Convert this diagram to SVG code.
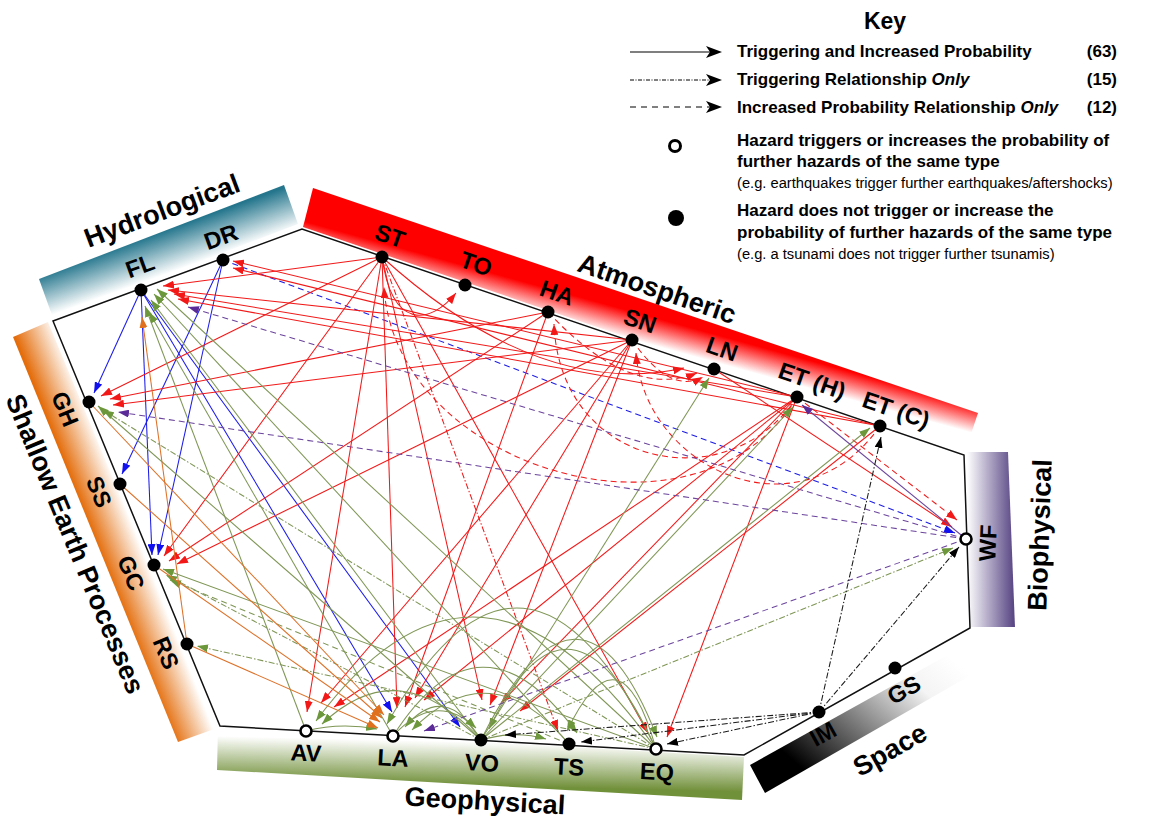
<svg xmlns="http://www.w3.org/2000/svg" width="1158" height="822" viewBox="0 0 1158 822">
<defs>
<style>
text{font-family:"Liberation Sans",Arial,sans-serif;fill:#000}
.cat{font-size:27px;font-weight:bold;text-anchor:middle;dominant-baseline:central}
.nl{font-size:23.5px;font-weight:bold;text-anchor:middle;dominant-baseline:central}
.kb{font-size:17px;font-weight:bold}
.ks{font-size:14.7px}
.c{fill:none;stroke-width:1.05}
.r{stroke:#f21818;marker-end:url(#aR)}
.g{stroke:#7f9655;marker-end:url(#aG)}
.b{stroke:#1c1ce8;marker-end:url(#aB)}
.o{stroke:#dd7128;marker-end:url(#aO)}
.p{stroke:#6b449c;marker-end:url(#aP)}
.k{stroke:#1a1a1a;marker-end:url(#aK)}
.ds{stroke-dasharray:6 4}
.dd{stroke-dasharray:6 2 1.5 2}
.fn{fill:#000}
.on{fill:#fff;stroke:#000;stroke-width:2.6}
</style>
<marker id="aR" viewBox="0 0 11 8" refX="11" refY="4" markerWidth="11" markerHeight="8" markerUnits="userSpaceOnUse" orient="auto"><path d="M0,0 L11,4 L0,8 z" fill="#f21818"/></marker>
<marker id="aG" viewBox="0 0 11 8" refX="11" refY="4" markerWidth="11" markerHeight="8" markerUnits="userSpaceOnUse" orient="auto"><path d="M0,0 L11,4 L0,8 z" fill="#6c973a"/></marker>
<marker id="aB" viewBox="0 0 11 8" refX="11" refY="4" markerWidth="11" markerHeight="8" markerUnits="userSpaceOnUse" orient="auto"><path d="M0,0 L11,4 L0,8 z" fill="#1010f0"/></marker>
<marker id="aO" viewBox="0 0 11 8" refX="11" refY="4" markerWidth="11" markerHeight="8" markerUnits="userSpaceOnUse" orient="auto"><path d="M0,0 L11,4 L0,8 z" fill="#e0701e"/></marker>
<marker id="aP" viewBox="0 0 11 8" refX="11" refY="4" markerWidth="11" markerHeight="8" markerUnits="userSpaceOnUse" orient="auto"><path d="M0,0 L11,4 L0,8 z" fill="#5b2c98"/></marker>
<marker id="aK" viewBox="0 0 11 8" refX="11" refY="4" markerWidth="11" markerHeight="8" markerUnits="userSpaceOnUse" orient="auto"><path d="M0,0 L11,4 L0,8 z" fill="#000"/></marker>
<linearGradient id="gHy" gradientUnits="userSpaceOnUse" x1="161" y1="232" x2="175" y2="271"><stop offset="0" stop-color="#25768d"/><stop offset="1" stop-color="#ffffff"/></linearGradient>
<linearGradient id="gAt" gradientUnits="userSpaceOnUse" x1="645" y1="300" x2="634" y2="340"><stop offset="0" stop-color="#ff0000"/><stop offset="0.35" stop-color="#ff0000"/><stop offset="1" stop-color="#ffffff"/></linearGradient>
<linearGradient id="gSh" gradientUnits="userSpaceOnUse" x1="95" y1="540" x2="133" y2="525"><stop offset="0" stop-color="#e46c0a"/><stop offset="1" stop-color="#ffffff"/></linearGradient>
<linearGradient id="gGe" gradientUnits="userSpaceOnUse" x1="481" y1="742" x2="480" y2="786"><stop offset="0" stop-color="#ffffff"/><stop offset="1" stop-color="#71903a"/></linearGradient>
<linearGradient id="gBi" gradientUnits="userSpaceOnUse" x1="967" y1="540" x2="1013" y2="540"><stop offset="0" stop-color="#ffffff"/><stop offset="1" stop-color="#5b4986"/></linearGradient>
<linearGradient id="gSp" gradientUnits="userSpaceOnUse" x1="930" y1="640" x2="790" y2="800"><stop offset="0" stop-color="#ffffff"/><stop offset="0.2" stop-color="#f4f4f4"/><stop offset="0.85" stop-color="#000000"/></linearGradient>
</defs>
<rect width="1158" height="822" fill="#fff"/>

<g id="bands">
<polygon points="39,279 284,185 298,224 53,318" fill="url(#gHy)"/>
<polygon points="313,188 978,413 965,452 303,227" fill="url(#gAt)"/>
<polygon points="13,337 48,322 217,728 178,742" fill="url(#gSh)"/>
<polygon points="218,727 744,757 742,800 217,770" fill="url(#gGe)"/>
<polygon points="965,452 1008,452 1015,627 970,627" fill="url(#gBi)"/>
<polygon points="750,765 980,637 992,663 765,793" fill="url(#gSp)"/>
</g>

<g id="categories">
<text class="cat" transform="translate(162,211) rotate(-20.5)">Hydrological</text>
<text class="cat" transform="translate(657,289) rotate(19)">Atmospheric</text>
<text class="cat" transform="translate(75,544) rotate(67.5)">Shallow Earth Processes</text>
<text class="cat" transform="translate(485,801) rotate(3.2)">Geophysical</text>
<text class="cat" transform="translate(1040,535) rotate(-88)">Biophysical</text>
<text class="cat" transform="translate(890,750) rotate(-29.3)">Space</text>
</g>

<polygon id="frame" points="53,321 302,229 964,455 970,628 744,755 220,726" fill="none" stroke="#111" stroke-width="1.5"/>

<g id="connectors">
<!-- hydrological (blue) -->
<path class="c b" d="M141,290 L94,393"/>
<path class="c b" d="M141,290 L152,555"/>
<path class="c b" d="M141,290 L392,712"/>
<path class="c b" d="M141,290 L460,727"/>
<path class="c b" d="M223,260 L122,474"/>
<path class="c b" d="M223,260 L158,555"/>
<path class="c b ds" d="M223,260 L955,533"/>
<!-- atmospheric (red) -->
<path class="c r" d="M382,257 L163,286"/>
<path class="c r" d="M632,340 L168,290"/>
<path class="c r" d="M797,397 L174,294"/>
<path class="c r" d="M880,426 L178,299"/>
<path class="c r" d="M797,397 L233,261"/>
<path class="c r" d="M880,426 L233,268"/>
<path class="c r" d="M382,257 L101,396"/>
<path class="c r" d="M548,312 L110,399"/>
<path class="c r" d="M632,340 L113,405"/>
<path class="c r" d="M382,257 L164,556"/>
<path class="c r" d="M548,312 L169,561"/>
<path class="c r" d="M632,340 L177,564"/>
<path class="c r" d="M382,257 L307,712"/>
<path class="c r" d="M632,340 L321,703"/>
<path class="c r" d="M797,397 L334,707"/>
<path class="c r" d="M382,257 L397,708"/>
<path class="c r" d="M548,312 L405,707"/>
<path class="c r" d="M632,340 L415,698"/>
<path class="c r" d="M797,397 L424,700"/>
<path class="c r" d="M382,257 L482,700"/>
<path class="c r" d="M632,340 L490,705"/>
<path class="c r" d="M797,397 L501,703"/>
<path class="c r" d="M880,426 L520,711"/>
<path class="c r" d="M382,257 L648,733"/>
<path class="c r" d="M797,397 L667,737"/>
<path class="c r" d="M714,369 L952,527"/>
<path class="c r" d="M382,257 C392,330 430,325 456,293"/>
<path class="c r" d="M382,257 Q540,400 684,368"/>
<path class="c r ds" d="M548,312 Q630,400 697,373"/>
<path class="c r ds" d="M632,340 Q670,395 703,377"/>
<path class="c r ds" d="M797,397 C700,560 395,470 384,287"/>
<path class="c r ds" d="M797,397 C730,500 560,470 554,324"/>
<path class="c r ds" d="M880,426 C800,540 645,470 636,353"/>
<path class="c r ds" d="M797,397 L957,520"/>
<path class="c r dd" d="M382,257 L558,731"/>
<!-- geophysical (green) -->
<path class="c g" d="M306,731 L145,306"/>
<path class="c g" d="M393,736 L149,312"/>
<path class="c g" d="M481,740 L151,300"/>
<path class="c g" d="M569,744 L154,294"/>
<path class="c g" d="M656,749 L157,289"/>
<path class="c g" d="M481,740 L98,406"/>
<path class="c g dd" d="M656,749 L103,410"/>
<path class="c g" d="M656,749 L163,569"/>
<path class="c g dd" d="M481,740 L166,575"/>
<path class="c g ds" d="M569,744 L170,580"/>
<path class="c g dd" d="M656,749 L197,646"/>
<path class="c g" d="M656,749 Q480,500 316,721"/>
<path class="c g" d="M481,740 Q400,650 322,724"/>
<path class="c g" d="M306,731 Q340,722 377,729"/>
<path class="c g" d="M656,749 Q525,480 387,724"/>
<path class="c g" d="M481,740 Q445,680 405,727"/>
<path class="c g" d="M569,744 Q490,650 412,730"/>
<path class="c g" d="M656,749 Q570,560 489,729"/>
<path class="c g" d="M393,736 Q435,690 476,728"/>
<path class="c g" d="M481,740 Q515,730 546,739"/>
<path class="c g" d="M656,749 Q620,620 567,731"/>
<path class="c g" d="M393,736 Q480,600 577,733"/>
<path class="c g" d="M481,740 Q580,540 657,737"/>
<path class="c g" d="M481,740 L709,378"/>
<path class="c g" d="M481,740 L793,407"/>
<path class="c g" d="M481,740 L870,428"/>
<path class="c g dd" d="M481,740 L953,548"/>
<!-- shallow earth processes (orange) -->
<path class="c o" d="M187,644 L142,317"/>
<path class="c o" d="M89,402 L384,715"/>
<path class="c o" d="M120,484 L382,718"/>
<path class="c o" d="M154,565 L380,722"/>
<path class="c o" d="M187,644 L378,728"/>
<!-- biophysical (purple) -->
<path class="c p ds" d="M966,539 L188,307"/>
<path class="c p ds" d="M966,539 L118,412"/>
<path class="c p ds" d="M966,539 L424,731"/>
<path class="c p" d="M966,539 L802,405"/>
<!-- space (black) -->
<path class="c k dd" d="M819,712 L505,735"/>
<path class="c k dd" d="M819,712 L581,742"/>
<path class="c k dd" d="M819,712 L667,744"/>
<path class="c k dd" d="M819,712 L881,437"/>
<path class="c k dd" d="M819,712 L959,547"/>
</g>

<g id="node-FL"><circle class="fn" cx="141" cy="290" r="6.5"/><text class="nl" transform="translate(140,266) rotate(-20)">FL</text></g>
<g id="node-DR"><circle class="fn" cx="223" cy="260" r="6.5"/><text class="nl" transform="translate(221,237) rotate(-20)">DR</text></g>
<g id="node-GH"><circle class="fn" cx="89" cy="402" r="6.5"/><text class="nl" transform="translate(65,409) rotate(67.5)">GH</text></g>
<g id="node-SS"><circle class="fn" cx="120" cy="484" r="6.5"/><text class="nl" transform="translate(99,492) rotate(67.5)">SS</text></g>
<g id="node-GC"><circle class="fn" cx="154" cy="565" r="6.5"/><text class="nl" transform="translate(131,573) rotate(67.5)">GC</text></g>
<g id="node-RS"><circle class="fn" cx="187" cy="644" r="6.5"/><text class="nl" transform="translate(166,653) rotate(67.5)">RS</text></g>
<g id="node-ST"><circle class="fn" cx="382" cy="257" r="6.5"/><text class="nl" transform="translate(390,236) rotate(19)">ST</text></g>
<g id="node-TO"><circle class="fn" cx="465" cy="285" r="6.5"/><text class="nl" transform="translate(476,264) rotate(19)">TO</text></g>
<g id="node-HA"><circle class="fn" cx="548" cy="312" r="6.5"/><text class="nl" transform="translate(557,293) rotate(19)">HA</text></g>
<g id="node-SN"><circle class="fn" cx="632" cy="340" r="6.5"/><text class="nl" transform="translate(640,321) rotate(19)">SN</text></g>
<g id="node-LN"><circle class="fn" cx="714" cy="369" r="6.5"/><text class="nl" transform="translate(722,349) rotate(19)">LN</text></g>
<g id="node-ETH"><circle class="fn" cx="797" cy="397" r="6.5"/><text class="nl" transform="translate(812,381) rotate(19)">ET (H)</text></g>
<g id="node-ETC"><circle class="fn" cx="880" cy="426" r="6.5"/><text class="nl" transform="translate(896,410) rotate(19)">ET (C)</text></g>
<g id="node-WF"><circle class="on" cx="966" cy="539" r="5.5"/><text class="nl" transform="translate(988,543) rotate(-88)">WF</text></g>
<g id="node-IM"><circle class="fn" cx="819" cy="712" r="6.5"/><text class="nl" transform="translate(823,734) rotate(-29)">IM</text></g>
<g id="node-GS"><circle class="fn" cx="895" cy="668" r="6.5"/><text class="nl" transform="translate(904,690) rotate(-29)">GS</text></g>
<g id="node-AV"><circle class="on" cx="306" cy="731" r="5.5"/><text class="nl" transform="translate(306,753) rotate(3)">AV</text></g>
<g id="node-LA"><circle class="on" cx="393" cy="736" r="5.5"/><text class="nl" transform="translate(393,758) rotate(3)">LA</text></g>
<g id="node-VO"><circle class="fn" cx="481" cy="740" r="6.5"/><text class="nl" transform="translate(482,763) rotate(3)">VO</text></g>
<g id="node-TS"><circle class="fn" cx="569" cy="744" r="6.5"/><text class="nl" transform="translate(569,767) rotate(3)">TS</text></g>
<g id="node-EQ"><circle class="on" cx="656" cy="749" r="5.5"/><text class="nl" transform="translate(657,772) rotate(3)">EQ</text></g>

<g id="key">
<text x="885" y="29" font-size="23" font-weight="bold" text-anchor="middle">Key</text>
<path d="M630,52 L712,52" stroke="#000" stroke-width="1.2"/>
<path d="M706,46 L722,52 L706,58 L710,52 z" fill="#000"/>
<path d="M630,80 L712,80" stroke="#000" stroke-width="1" stroke-dasharray="4 1.5 1 1.5"/>
<path d="M706,74 L722,80 L706,86 L710,80 z" fill="#000"/>
<path d="M630,107 L712,107" stroke="#000" stroke-width="1" stroke-dasharray="6 5"/>
<path d="M706,101 L722,107 L706,113 L710,107 z" fill="#000"/>
<text class="kb" x="737" y="57">Triggering and Increased Probability</text>
<text class="kb" x="737" y="85">Triggering Relationship <tspan font-style="italic">Only</tspan></text>
<text class="kb" x="737" y="113">Increased Probability Relationship <tspan font-style="italic">Only</tspan></text>
<text class="kb" x="1117" y="57" text-anchor="end">(63)</text>
<text class="kb" x="1117" y="85" text-anchor="end">(15)</text>
<text class="kb" x="1117" y="113" text-anchor="end">(12)</text>
<circle cx="675" cy="146" r="5.5" fill="#fff" stroke="#000" stroke-width="3"/>
<text class="kb" x="737" y="146">Hazard triggers or increases the probability of</text>
<text class="kb" x="737" y="167">further hazards of the same type</text>
<text class="ks" x="737" y="188">(e.g. earthquakes trigger further earthquakes/aftershocks)</text>
<circle cx="676" cy="218" r="8" fill="#000"/>
<text class="kb" x="737" y="216">Hazard does not trigger or increase the</text>
<text class="kb" x="737" y="238">probability of further hazards of the same type</text>
<text class="ks" x="737" y="259">(e.g. a tsunami does not trigger further tsunamis)</text>
</g>
</svg>
